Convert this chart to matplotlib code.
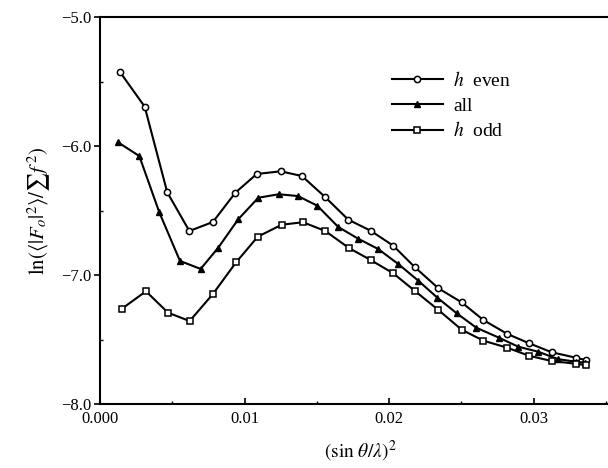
import matplotlib
matplotlib.use("Agg")
import matplotlib.pyplot as plt
from matplotlib.ticker import MultipleLocator

# ---- data ----
x_even = [0.00138, 0.00309, 0.00465, 0.00618, 0.00781, 0.00936, 0.01084, 0.01250,
          0.01397, 0.01556, 0.01717, 0.01872, 0.02028, 0.02178, 0.02340, 0.02501,
          0.02651, 0.02817, 0.02967, 0.03124, 0.03290, 0.03359]
y_even = [-5.426, -5.695, -6.359, -6.659, -6.589, -6.362, -6.217, -6.196,
          -6.233, -6.395, -6.571, -6.657, -6.773, -6.940, -7.103, -7.212,
          -7.349, -7.457, -7.529, -7.599, -7.641, -7.659]

x_all = [0.00124, 0.00272, 0.00410, 0.00553, 0.00696, 0.00818, 0.00956, 0.01095,
         0.01236, 0.01369, 0.01503, 0.01648, 0.01786, 0.01923, 0.02063, 0.02201,
         0.02333, 0.02467, 0.02603, 0.02759, 0.02893, 0.03031, 0.03170, 0.03290,
         0.03354]
y_all = [-5.971, -6.078, -6.514, -6.891, -6.953, -6.788, -6.568, -6.401,
         -6.374, -6.388, -6.463, -6.628, -6.719, -6.798, -6.915, -7.044,
         -7.176, -7.297, -7.409, -7.486, -7.556, -7.595, -7.653, -7.672,
         -7.680]

x_odd = [0.00152, 0.00318, 0.00470, 0.00620, 0.00781, 0.00941, 0.01091, 0.01257,
         0.01404, 0.01558, 0.01722, 0.01872, 0.02028, 0.02178, 0.02340, 0.02501,
         0.02651, 0.02817, 0.02967, 0.03124, 0.03290, 0.03359]
y_odd = [-7.261, -7.126, -7.292, -7.357, -7.147, -6.902, -6.703, -6.610,
         -6.591, -6.659, -6.791, -6.884, -6.987, -7.124, -7.271, -7.424,
         -7.509, -7.564, -7.626, -7.667, -7.688, -7.698]

series_labels = ["$h$  even", "all", "$h$  odd"]
xtick_vals = [0.0, 0.01, 0.02, 0.03]
xtick_labels = ["0.000", "0.01", "0.02", "0.03"]
ytick_vals = [-8.0, -7.0, -6.0, -5.0]
ytick_labels = ["\u22128.0", "\u22127.0", "\u22126.0", "\u22125.0"]

plt.rcParams['font.family'] = ['Liberation Serif', 'DejaVu Serif']
plt.rcParams['mathtext.fontset'] = 'stix'

fig = plt.figure(figsize=(6.08, 4.68), dpi=100)
left = 100 / 608
bottom = 1 - 404 / 468
top = 1 - 17 / 468
ax = fig.add_axes([left, bottom, 1.02 - left, top - bottom])

lw = 1.5
ax.plot(x_even, y_even, color='black', lw=lw, marker='o', ms=4.5,
        mfc='white', mec='black', mew=1.1, label=series_labels[0])
ax.plot(x_all, y_all, color='black', lw=lw, marker='^', ms=4.3,
        mfc='black', mec='black', mew=1.0, label=series_labels[1])
ax.plot(x_odd, y_odd, color='black', lw=lw, marker='s', ms=4.3,
        mfc='white', mec='black', mew=1.1, label=series_labels[2])

ax.set_xlim(0.0, (608 * 1.02 - 100) / 14460)
ax.set_ylim(-8.0, -5.0)

ax.set_xticks(xtick_vals)
ax.set_xticklabels(xtick_labels)
ax.set_yticks(ytick_vals)
ax.set_yticklabels(ytick_labels)
ax.xaxis.set_minor_locator(MultipleLocator(0.005))
ax.yaxis.set_minor_locator(MultipleLocator(0.5))

ax.tick_params(axis='x', which='major', direction='in', length=4, width=1.2,
               labelsize=12, pad=5)
ax.tick_params(axis='x', which='minor', direction='in', length=2.5, width=1.0)
ax.tick_params(axis='y', which='major', direction='out', length=4, width=1.2,
               labelsize=12, pad=2)
ax.tick_params(axis='y', which='minor', direction='in', length=2.5, width=1.0)

for s in ax.spines.values():
    s.set_linewidth(1.5)
ax.spines['right'].set_visible(False)

ax.set_xlabel(r'$(\sin\,\theta/\lambda)^2$', fontsize=14, labelpad=9)
ax.set_ylabel(r'$\ln(\langle|F_o|^2\rangle/\sum f^{\,2})$', fontsize=15, labelpad=6)

leg = ax.legend(loc='upper left', bbox_to_anchor=(0.5615, 0.86), frameon=False,
                fontsize=14, handlelength=2.6, handletextpad=0.55,
                labelspacing=0.35, borderaxespad=0, borderpad=0)

fig.savefig('out.png', dpi=100)
